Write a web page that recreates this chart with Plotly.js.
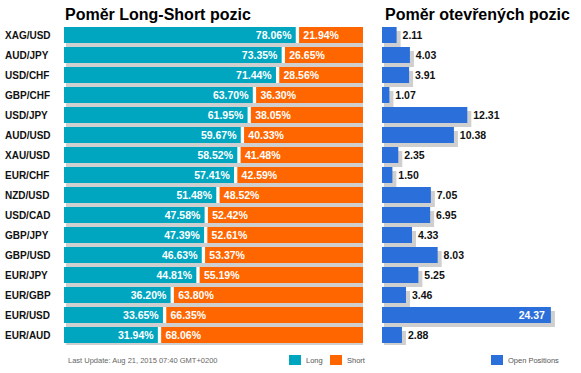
<!DOCTYPE html>
<html>
<head>
<meta charset="utf-8">
<script src="https://cdn.plot.ly/plotly-3.0.1.min.js"></script>
<style>html,body{margin:0;padding:0;background:#fff;}#chart{width:581px;height:373px;}</style>
</head>
<body>
<div id="chart"></div>
<script>
const pairs = ["XAG/USD","AUD/JPY","USD/CHF","GBP/CHF","USD/JPY","AUD/USD","XAU/USD","EUR/CHF","NZD/USD","USD/CAD","GBP/JPY","GBP/USD","EUR/JPY","EUR/GBP","EUR/USD","EUR/AUD"];
const longPct = [78.06,73.35,71.44,63.70,61.95,59.67,58.52,57.41,51.48,47.58,47.39,46.63,44.81,36.20,33.65,31.94];
const shortPct = [21.94,26.65,28.56,36.30,38.05,40.33,41.48,42.59,48.52,52.42,52.61,53.37,55.19,63.80,66.35,68.06];
const openPos = [2.11,4.03,3.91,1.07,12.31,10.38,2.35,1.50,7.05,6.95,4.33,8.03,5.25,3.46,24.37,2.88];

const W = 581, H = 373;
const FONT = "'Liberation Sans', Arial, Helvetica, sans-serif";
const TEAL = "#00a6bf", ORANGE = "#ff6600", BLUE = "#2b70da", SHADOW = "#cfcfcf";
const NB = "\u00a0";

// pixel geometry helpers
const L0 = 64, L1 = 363;          // left plot x span
const R0 = 382, R1 = 572;         // right plot x span
const T0 = 25, B0 = 345;          // plot y span
const pxL = (L1 - L0) / 100;      // px per % unit
const rMax = (R1 - R0) / 6.93;    // right axis range
const pxR = (R1 - R0) / rMax;

const bw = 0.8, off = -0.4, shOff = -0.4 + 4 / 20;
const gapU = 3.3 / pxL;

const base = {type: "bar", orientation: "h", y: pairs, width: bw, offset: off,
  hoverinfo: "skip", showlegend: false, cliponaxis: false};

const traces = [
  Object.assign({}, base, {xaxis: "x", yaxis: "y", offset: shOff,
    base: pairs.map(() => 2 / pxL),
    x: longPct.map((v, i) => v + shortPct[i] + 2 / pxL),
    marker: {color: SHADOW}}),
  Object.assign({}, base, {xaxis: "x", yaxis: "y",
    x: longPct.map((v, i) => v + shortPct[i]),
    marker: {color: "#ffffff"}}),
  Object.assign({}, base, {xaxis: "x", yaxis: "y", name: "Long",
    x: longPct, marker: {color: TEAL},
    text: longPct.map(v => v.toFixed(2) + "%" + NB),
    textposition: "inside", insidetextanchor: "end", constraintext: "none",
    textangle: 0,
    textfont: {family: FONT, size: 10.5, color: "#ffffff", weight: "bold"}}),
  Object.assign({}, base, {xaxis: "x", yaxis: "y", name: "Short",
    base: longPct, x: shortPct, marker: {color: ORANGE},
    text: shortPct.map(v => NB + v.toFixed(2) + "%"),
    textposition: "inside", insidetextanchor: "start", constraintext: "none",
    textangle: 0,
    textfont: {family: FONT, size: 10.5, color: "#ffffff", weight: "bold"}}),
  Object.assign({}, base, {xaxis: "x", yaxis: "y",
    base: longPct.map(v => v - gapU / 2), x: pairs.map(() => gapU),
    marker: {color: "#ffffff"}}),
  Object.assign({}, base, {xaxis: "x2", yaxis: "y2", offset: shOff,
    base: pairs.map(() => 2 / pxR),
    x: openPos.map(v => v + 2 / pxR),
    marker: {color: SHADOW}}),
  Object.assign({}, base, {xaxis: "x2", yaxis: "y2", name: "Open Positions",
    x: openPos, marker: {color: BLUE},
    text: openPos.map(v => v > 20 ? v.toFixed(2) + NB : NB + v.toFixed(2)),
    textposition: openPos.map(v => v > 20 ? "inside" : "outside"),
    insidetextanchor: "end", constraintext: "none", textangle: 0,
    insidetextfont: {family: FONT, size: 10.5, color: "#ffffff", weight: "bold"},
    outsidetextfont: {family: FONT, size: 10.5, color: "#111111", weight: "bold"}})
];

const hid = {showgrid: false, zeroline: false, showticklabels: false, ticks: "", showline: false, fixedrange: true};
const yDom = [1 - B0 / H, 1 - T0 / H];

const annotations = [];
pairs.forEach(p => annotations.push({xref: "paper", yref: "y", x: 3 / W, y: p,
  xanchor: "left", yanchor: "middle", showarrow: false, text: p,
  font: {family: FONT, size: 10, color: "#111111", weight: "bold"}}));
annotations.push({xref: "paper", yref: "paper", x: (L0 - 1) / W, y: 1 - 14 / H,
  xanchor: "left", yanchor: "middle", showarrow: false, text: "Poměr Long-Short pozic",
  font: {family: FONT, size: 16, color: "#000000", weight: "bold"}});
annotations.push({xref: "paper", yref: "paper", x: (R0 + 1) / W, y: 1 - 14 / H,
  xanchor: "left", yanchor: "middle", showarrow: false, text: "Poměr otevřených pozic",
  font: {family: FONT, size: 16, color: "#000000", weight: "bold"}});
annotations.push({xref: "paper", yref: "paper", x: 66 / W, y: 1 - 360 / H,
  xanchor: "left", yanchor: "middle", showarrow: false,
  text: "Last Update: Aug 21, 2015 07:40 GMT+0200",
  font: {family: FONT, size: 7.5, color: "#666666"}});

// custom legend
const legendItems = [
  {label: "Long", color: TEAL, x: 289},
  {label: "Short", color: ORANGE, x: 330},
  {label: "Open Positions", color: BLUE, x: 491}
];
const shapes = [];
legendItems.forEach(it => {
  shapes.push({type: "rect", xref: "paper", yref: "paper",
    x0: it.x / W, x1: (it.x + 12) / W, y0: 1 - 365 / H, y1: 1 - 355 / H,
    fillcolor: it.color, line: {width: 0}});
  annotations.push({xref: "paper", yref: "paper", x: (it.x + 15) / W, y: 1 - 360 / H,
    xanchor: "left", yanchor: "middle", showarrow: false, text: it.label,
    font: {family: FONT, size: 7.5, color: "#555555"}});
});

const layout = {
  width: W, height: H, margin: {l: 0, r: 0, t: 0, b: 0},
  paper_bgcolor: "#ffffff", plot_bgcolor: "rgba(0,0,0,0)",
  barmode: "overlay", showlegend: false,
  xaxis: Object.assign({}, hid, {domain: [L0 / W, L1 / W], range: [0, 100]}),
  yaxis: Object.assign({}, hid, {domain: yDom, autorange: false, range: [15.5, -0.5], type: "category", anchor: "x"}),
  xaxis2: Object.assign({}, hid, {domain: [R0 / W, R1 / W], range: [0, rMax], anchor: "y2"}),
  yaxis2: Object.assign({}, hid, {domain: yDom, autorange: false, range: [15.5, -0.5], type: "category", anchor: "x2"}),
  annotations: annotations, shapes: shapes,
  font: {family: FONT}
};

Plotly.newPlot("chart", traces, layout, {displayModeBar: false, staticPlot: true});
</script>
</body>
</html>
